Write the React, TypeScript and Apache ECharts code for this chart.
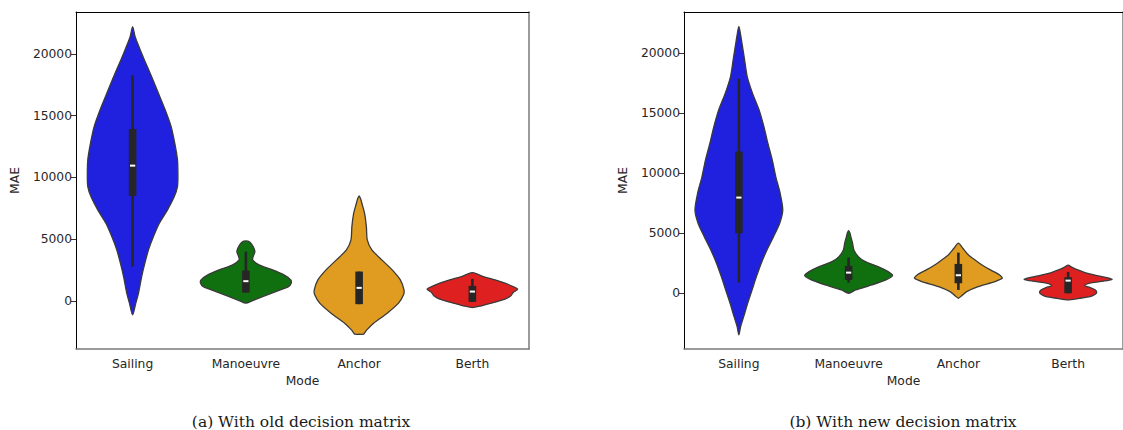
import React, { useEffect, useRef } from "react";
import * as echarts from "echarts";

const categories = ["Sailing", "Manoeuvre", "Anchor", "Berth"];
const maeTicks = [0, 5000, 10000, 15000, 20000];
const violinColors = ["#2020df", "#107010", "#df9c20", "#df2020"];

// y-axis limits of the two panels
const oldLimits = [-3900, 23400];
const newLimits = [-4670, 23400];

// Kernel density outlines: [MAE, density relative to the violin's peak]
const oldSailingKde = [
  [22210, 0], [21400, 0.055], [20866, 0.11], [19514, 0.26], [18162, 0.42], [16817, 0.57],
  [15465, 0.72], [14113, 0.85], [12769, 0.93], [11417, 0.99], [10065, 1.0], [9255, 0.99],
  [8445, 0.92], [7368, 0.77], [6291, 0.59], [5207, 0.46], [4129, 0.35], [3053, 0.27],
  [1968, 0.2], [623, 0.13], [-186, 0.07], [-1134, 0],
];
const oldManoeuvreKde = [
  [4858, 0], [4750, 0.09], [4397, 0.16], [3992, 0.2], [3587, 0.16], [3320, 0.15],
  [2915, 0.29], [2510, 0.59], [2105, 0.84], [1700, 0.99], [1433, 1.0], [1158, 0.94],
  [753, 0.66], [348, 0.37], [24, 0.15], [-190, 0],
];
const oldAnchorKde = [
  [8502, 0], [8300, 0.03], [7908, 0.06], [7100, 0.12], [6016, 0.16], [4939, 0.18],
  [4129, 0.28], [3320, 0.5], [2510, 0.73], [1700, 0.91], [891, 0.99], [486, 0.98],
  [-186, 0.87], [-996, 0.62], [-1806, 0.32], [-2348, 0.17], [-2600, 0.12], [-2700, 0.1], [-2705, 0],
];
const oldBerthKde = [
  [2292, 0], [2150, 0.12], [1968, 0.24], [1700, 0.5], [1433, 0.72], [1158, 0.9],
  [947, 1.0], [800, 0.95], [672, 0.9], [405, 0.85], [138, 0.72], [-186, 0.42],
  [-400, 0.2], [-543, 0],
];

const newSailingKde = [
  [22192, 0], [21500, 0.04], [20808, 0.07], [19416, 0.13], [18025, 0.19], [16641, 0.31],
  [15250, 0.46], [13858, 0.57], [12475, 0.66], [11083, 0.76], [9692, 0.84], [8308, 0.94],
  [6916, 1.0], [5808, 0.93], [4692, 0.79], [3583, 0.64], [2475, 0.51], [1358, 0.4],
  [250, 0.3], [-858, 0.2], [-1975, 0.11], [-2808, 0.04], [-3500, 0],
];
const newManoeuvreKde = [
  [5192, 0], [5000, 0.03], [4692, 0.05], [4142, 0.09], [3583, 0.12], [3025, 0.22],
  [2608, 0.38], [2192, 0.67], [1775, 0.9], [1442, 1.0], [1083, 0.85], [667, 0.53],
  [250, 0.16], [-25, 0],
];
const newAnchorKde = [
  [4142, 0], [3725, 0.1], [3167, 0.23], [2750, 0.38], [2333, 0.54], [1917, 0.73],
  [1500, 0.94], [1225, 1.0], [942, 0.83], [525, 0.45], [108, 0.19], [-250, 0.07], [-442, 0],
];
const newBerthKde = [
  [2308, 0], [2150, 0.08], [1917, 0.22], [1650, 0.42], [1400, 0.72], [1142, 1.0],
  [980, 0.8], [858, 0.55], [700, 0.4], [583, 0.38], [450, 0.5], [250, 0.62],
  [25, 0.65], [-150, 0.6], [-300, 0.5], [-450, 0.25], [-583, 0],
];

// Inner box plots: whiskers, quartiles and medians
const oldWhiskerLow = [2777, 672, -267, -81];
const oldQ1 = [8502, 672, -267, -81];
const oldMedian = [10955, 1595, 1052, 753];
const oldQ3 = [13927, 2453, 2372, 1214];
const oldWhiskerHigh = [18275, 3992, 2372, 1781];

const newWhiskerLow = [858, 858, 250, -25];
const newQ1 = [4975, 1083, 808, -25];
const newMedian = [7942, 1692, 1475, 1025];
const newQ3 = [11775, 2250, 2417, 1308];
const newWhiskerHigh = [17833, 2942, 3358, 1750];

type Kde = number[][];

function violinRenderer(
  kdes: Kde[],
  lows: number[],
  q1s: number[],
  meds: number[],
  q3s: number[],
  highs: number[]
) {
  return (params: any, api: any) => {
    const i = api.value(0);
    const kde = kdes[i];
    const band = api.size([1, 0])[0];
    const half = band * 0.4;
    const cx = api.coord([i, 0])[0];
    const y = (v: number) => api.coord([i, v])[1];
    const right = kde.map(([v, d]) => [cx + d * half, y(v)]);
    const left = kde
      .slice(1, kde.length - 1)
      .reverse()
      .map(([v, d]) => [cx - d * half, y(v)]);
    const boxW = 7.6;
    return {
      type: "group",
      children: [
        {
          type: "polygon",
          shape: { points: right.concat(left), smooth: 0.25 },
          style: { fill: violinColors[i], stroke: "#3a3a3a", lineWidth: 1.3 },
        },
        {
          type: "line",
          shape: { x1: cx, y1: y(highs[i]), x2: cx, y2: y(lows[i]) },
          style: { stroke: "#262626", lineWidth: 2.6 },
        },
        {
          type: "rect",
          shape: { x: cx - boxW / 2, y: y(q3s[i]), width: boxW, height: y(q1s[i]) - y(q3s[i]) },
          style: { fill: "#262626" },
        },
        {
          type: "rect",
          shape: { x: cx - 2.6, y: y(meds[i]) - 1, width: 5.2, height: 2 },
          style: { fill: "#ffffff" },
        },
      ],
    };
  };
}

const textStyle = { fontFamily: "DejaVu Sans", fontSize: 12.3, color: "#262626" };

function bottomAxis(gridIndex: number) {
  return {
    gridIndex,
    type: "category",
    data: categories,
    position: "bottom",
    boundaryGap: true,
    axisLine: { onZero: false, lineStyle: { color: "#7a7a7a", width: 1.5 } },
    axisTick: { alignWithLabel: true, length: 5, lineStyle: { color: "#333" } },
    axisLabel: { ...textStyle, margin: 9 },
    splitLine: { show: false },
    name: "Mode",
    nameLocation: "middle",
    nameGap: 25,
    nameTextStyle: textStyle,
  };
}

function topAxis(gridIndex: number) {
  return {
    gridIndex,
    type: "category",
    data: categories,
    position: "top",
    axisLine: { onZero: false, lineStyle: { color: "#000", width: 1 } },
    axisTick: { show: false },
    axisLabel: { show: false },
    splitLine: { show: false },
  };
}

function leftAxis(gridIndex: number, limits: number[]) {
  return {
    gridIndex,
    type: "value",
    position: "left",
    min: limits[0],
    max: limits[1],
    axisLine: { show: true, onZero: false, lineStyle: { color: "#000", width: 1 } },
    axisTick: { show: true, length: 5, customValues: maeTicks, lineStyle: { color: "#333" } },
    axisLabel: {
      ...textStyle,
      margin: 4,
      customValues: maeTicks,
      formatter: (v: number) => String(v),
    },
    splitLine: { show: false },
    name: "MAE",
    nameLocation: "middle",
    nameGap: 55,
    nameTextStyle: textStyle,
  };
}

function rightAxis(gridIndex: number, limits: number[]) {
  return {
    gridIndex,
    type: "value",
    position: "right",
    min: limits[0],
    max: limits[1],
    axisLine: { show: true, onZero: false, lineStyle: { color: "#7a7a7a", width: 1.5 } },
    axisTick: { show: false },
    axisLabel: { show: false },
    splitLine: { show: false },
  };
}

const captionStyle = {
  fontFamily: "DejaVu Serif",
  fontSize: 15.5,
  fill: "#1a1a1a",
  align: "center",
  verticalAlign: "middle",
};

export default function App() {
  const ref = useRef<HTMLDivElement>(null);

  useEffect(() => {
    if (!ref.current) return;
    const chart = echarts.init(ref.current, null, { renderer: "svg" });
    chart.setOption({
      animation: false,
      backgroundColor: "#ffffff",
      grid: [
        { left: 76, top: 12, width: 453, height: 337, containLabel: false },
        { left: 684, top: 12, width: 453, height: 337, containLabel: false },
      ],
      xAxis: [bottomAxis(0), bottomAxis(1), topAxis(0), topAxis(1)],
      yAxis: [leftAxis(0, oldLimits), leftAxis(1, newLimits), rightAxis(0, oldLimits), rightAxis(1, newLimits)],
      series: [
        {
          type: "custom",
          xAxisIndex: 0,
          yAxisIndex: 0,
          encode: { x: 0, y: 1 },
          data: categories.map((_, i) => [i, oldMedian[i]]),
          renderItem: violinRenderer(
            [oldSailingKde, oldManoeuvreKde, oldAnchorKde, oldBerthKde],
            oldWhiskerLow, oldQ1, oldMedian, oldQ3, oldWhiskerHigh
          ),
        },
        {
          type: "custom",
          xAxisIndex: 1,
          yAxisIndex: 1,
          encode: { x: 0, y: 1 },
          data: categories.map((_, i) => [i, newMedian[i]]),
          renderItem: violinRenderer(
            [newSailingKde, newManoeuvreKde, newAnchorKde, newBerthKde],
            newWhiskerLow, newQ1, newMedian, newQ3, newWhiskerHigh
          ),
        },
      ],
      graphic: [
        {
          type: "text",
          x: 301,
          y: 422,
          style: { text: "(a) With old decision matrix", ...captionStyle },
        },
        {
          type: "text",
          x: 903,
          y: 422,
          style: { text: "(b) With new decision matrix", ...captionStyle },
        },
      ],
    });
    return () => chart.dispose();
  }, []);

  return (
    <div
      style={{ position: "fixed", left: 0, top: 0, width: 1123, height: 430, overflow: "hidden", background: "#fff" }}
    >
      <div ref={ref} style={{ width: 1123, height: 430 }} />
    </div>
  );
}
